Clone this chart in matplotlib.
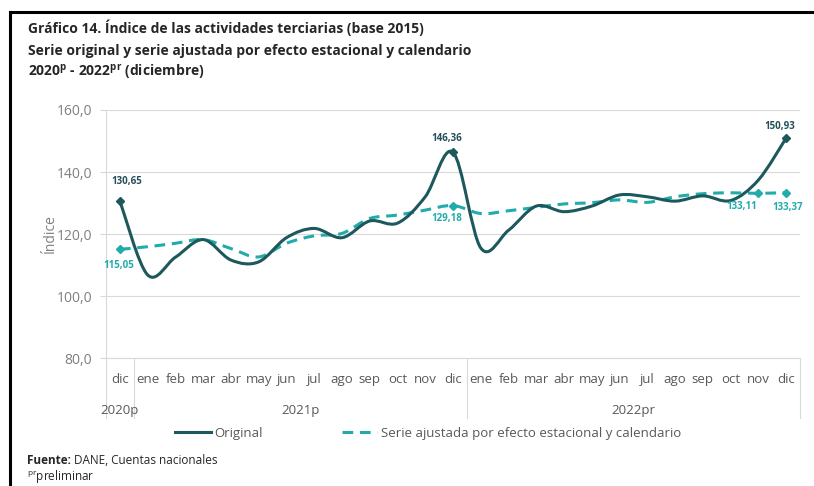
import numpy as np
import matplotlib
matplotlib.use('Agg')
import matplotlib.pyplot as plt
import matplotlib.transforms as mtransforms
from matplotlib import font_manager
from matplotlib.path import Path
from matplotlib.patches import PathPatch
from matplotlib.lines import Line2D

# --- data -------------------------------------------------------------
months = ['dic', 'ene', 'feb', 'mar', 'abr', 'may', 'jun', 'jul', 'ago', 'sep', 'oct', 'nov', 'dic',
          'ene', 'feb', 'mar', 'abr', 'may', 'jun', 'jul', 'ago', 'sep', 'oct', 'nov', 'dic']
years = ['2020p', '2021p', '2022pr']
year_first = [0, 1, 13]
year_last = [0, 12, 24]

original = [130.65, 106.8, 112.5, 118.2, 111.6, 111.0, 118.8, 121.8, 118.8, 124.2, 123.5, 132.0, 146.36,
            115.5, 121.2, 129.0, 127.2, 129.0, 132.6, 132.0, 130.6, 132.3, 130.8, 137.4, 150.93]
ajustada = [115.05, 115.9, 117.0, 118.2, 115.3, 112.6, 117.0, 119.4, 120.2, 125.0, 126.1, 127.7, 129.18,
            126.6, 127.5, 128.6, 129.7, 130.1, 131.0, 130.2, 132.0, 133.0, 133.3, 133.11, 133.37]
yticks = [80, 100, 120, 140, 160]

# --- style ------------------------------------------------------------
names = {f.name for f in font_manager.fontManager.ttflist}
narrow = 'Liberation Sans Narrow' if 'Liberation Sans Narrow' in names else 'Open Sans'
plt.rcParams['font.family'] = ['Open Sans', 'DejaVu Sans']
plt.rcParams['mathtext.fontset'] = 'custom'
plt.rcParams['mathtext.rm'] = 'Open Sans'
plt.rcParams['mathtext.bf'] = 'Open Sans:bold'

c_orig = '#1c585c'
c_adj = '#22abab'
c_lab = '#24505a'
c_grid = '#d9d9d9'


def smooth(xs, ys):
    # excel-like smoothed line as cubic bezier through the points
    p = np.column_stack([xs, ys]).astype(float)
    ext = np.vstack([p[0], p, p[-1]])
    verts = [p[0]]
    codes = [Path.MOVETO]
    for i in range(len(p) - 1):
        a, b, c, d = ext[i], ext[i + 1], ext[i + 2], ext[i + 3]
        verts += [b + (c - a) / 6, c - (d - b) / 6, c]
        codes += [Path.CURVE4] * 3
    return Path(verts, codes)


W, H = 814, 486
fig = plt.figure(figsize=(W / 100, H / 100), dpi=100)
ax = fig.add_axes([106 / W, (H - 358) / H, 694 / W, 248 / H])

x = np.arange(len(months))
ax.add_patch(PathPatch(smooth(x, original), fill=False, edgecolor=c_orig, lw=2.2,
                       capstyle='round', joinstyle='round', zorder=3))
ax.add_patch(PathPatch(smooth(x, ajustada), fill=False, edgecolor=c_adj, lw=2.2,
                       linestyle=(0, (3.5, 2.2)), zorder=2))

# markers and data labels
orig_pts = [(0, (5, 14)), (12, (-4.5, 10)), (24, (-4.3, 8.5))]
adj_pts = [(0, (-0.7, -11.5)), (12, (-4.3, -9.4)), (23, (-11.9, -9.6)), (24, (1.4, -10.8))]
for i, off in orig_pts:
    ax.plot(x[i], original[i], 'D', color=c_orig, ms=4, zorder=4)
    ax.annotate(f'{original[i]:.2f}'.replace('.', ','), (x[i], original[i]), xytext=off,
                textcoords='offset points', ha='center', va='center', fontsize=7,
                fontweight='bold', color=c_lab)
for i, off in adj_pts:
    ax.plot(x[i], ajustada[i], 'D', color=c_adj, ms=4, zorder=4)
    ax.annotate(f'{ajustada[i]:.2f}'.replace('.', ','), (x[i], ajustada[i]), xytext=off,
                textcoords='offset points', ha='center', va='center', fontsize=7,
                fontweight='bold', color=c_adj)

ax.set_xlim(-0.5, len(months) - 0.5)
ax.set_ylim(80, 160)
ax.set_yticks(yticks)
ax.set_yticklabels([f'{v:.1f}'.replace('.', ',') for v in yticks], fontfamily=narrow,
                   fontsize=10, color='#7f7f7f')
ax.set_xticks(x)
ax.set_xticklabels(months, fontfamily=narrow, fontsize=9.5, color='#595959')
ax.tick_params(axis='x', length=0, pad=11)
ax.tick_params(axis='y', length=4, color=c_grid, pad=6)
ax.yaxis.grid(True, color=c_grid, lw=0.8)
ax.set_axisbelow(True)
for s in ['top', 'right']:
    ax.spines[s].set_visible(False)
ax.spines['left'].set_color(c_grid)
ax.spines['bottom'].set_color(c_grid)
ax.spines['left'].set_linewidth(0.8)
ax.spines['bottom'].set_linewidth(0.8)
ax.set_ylabel('Índice', fontfamily=narrow, fontsize=10, color='#7f7f7f', labelpad=-1)

# year groups under the month labels
trans = mtransforms.blended_transform_factory(ax.transData, ax.transAxes)
for b in [-0.5] + [l + 0.5 for l in year_last]:
    ax.plot([b, b], [0, -0.24], transform=trans, color=c_grid, lw=0.8, clip_on=False)
for lab, a, b in zip(years, year_first, year_last):
    ax.text((a + b) / 2, -0.21, lab, transform=trans, ha='center', va='center',
            fontfamily=narrow, fontsize=9.5, color='#595959')

# legend
handles = [Line2D([], [], color=c_orig, lw=2.2),
           Line2D([], [], color=c_adj, lw=2.2, linestyle=(0, (3.5, 2.2)))]
fig.legend(handles, ['Original', 'Serie ajustada por efecto estacional y calendario'],
           loc='center', bbox_to_anchor=(428 / W, 1 - 433 / H), ncol=2, frameon=False,
           handlelength=2.7, handletextpad=0.25, columnspacing=6.0,
           prop={'family': narrow, 'size': 9.5}, labelcolor='#595959')

# title and notes
title_lines = ['Gráfico 14. Índice de las actividades terciarias (base 2015)',
               'Serie original y serie ajustada por efecto estacional y calendario',
               r'2020$^{\mathbf{p}}$ - 2022$^{\mathbf{pr}}$ (diciembre)']
for k, line in enumerate(title_lines):
    fig.text(28 / W, 1 - (33 + 22 * k) / H, line, fontsize=10, fontweight='bold',
             color='#262626', va='baseline')
t1 = fig.text(27 / W, 1 - 464 / H, 'Fuente:', fontsize=8.5, fontweight='bold',
              color='#262626', va='baseline')
ax.annotate(' DANE, Cuentas nacionales', xy=(1, 0), xycoords=t1, va='bottom', ha='left',
            fontsize=8.5, color='#262626', annotation_clip=False)
fig.text(27 / W, 1 - 480 / H, r'$^{\mathrm{pr}}$preliminar', fontsize=8.5,
         color='#262626', va='baseline')

# black frame (top and left edges)
fig.add_artist(Line2D([10 / W, 1], [1 - 12 / H, 1 - 12 / H], transform=fig.transFigure,
                      color='black', lw=2.2))
fig.add_artist(Line2D([10 / W, 10 / W], [0, 1 - 12 / H], transform=fig.transFigure,
                      color='black', lw=2.2))

fig.savefig('out.png', dpi=100)
